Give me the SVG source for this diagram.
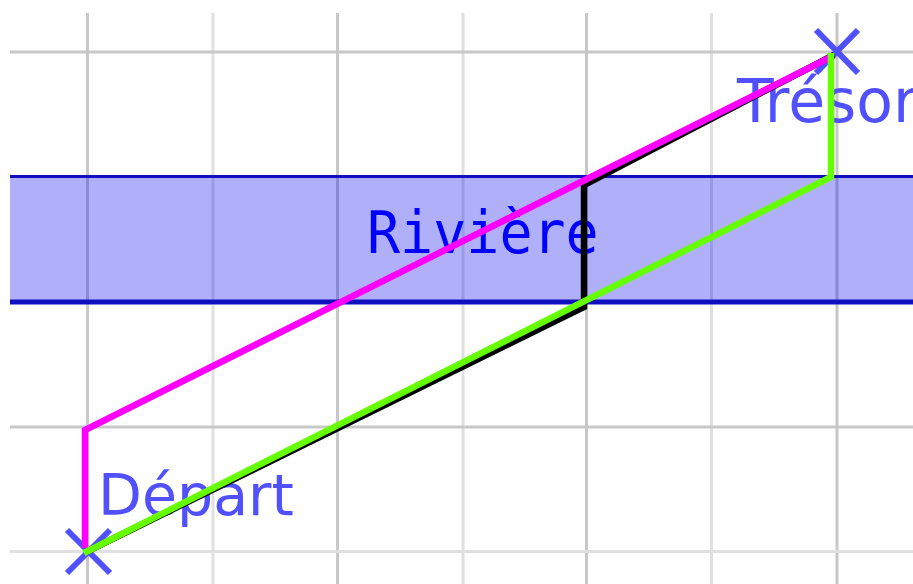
<svg xmlns="http://www.w3.org/2000/svg" width="913" height="584" viewBox="0 0 913 584">
<style>
.gd{stroke:#c8c8c8;stroke-width:3}
.gl{stroke:#e0e0e0;stroke-width:3}
.mark{stroke:#5050ff;stroke-width:6;fill:none}
.lbl{font-family:"DejaVu Sans",sans-serif;fill:#5050ff}
.riv{font-family:"DejaVu Sans Mono",monospace;fill:#0000ff;font-size:55px}
.path{fill:none;stroke-width:6.5;stroke-linejoin:miter}
</style>
<rect width="913" height="584" fill="#ffffff"/>
<g id="grid">
<line class="gd" x1="87.5" y1="13" x2="87.5" y2="584"/>
<line class="gl" x1="213" y1="13" x2="213" y2="584"/>
<line class="gd" x1="337.5" y1="13" x2="337.5" y2="584"/>
<line class="gl" x1="463" y1="13" x2="463" y2="584"/>
<line class="gd" x1="586.5" y1="13" x2="586.5" y2="584"/>
<line class="gl" x1="711.5" y1="13" x2="711.5" y2="584"/>
<line class="gd" x1="837" y1="13" x2="837" y2="584"/>
<line class="gd" x1="10" y1="52" x2="913" y2="52"/>
<line class="gd" x1="10" y1="427" x2="913" y2="427"/>
<line class="gl" x1="10" y1="551.5" x2="913" y2="551.5"/>
</g>
<g id="river">
<rect x="10" y="176" width="903" height="126" fill="#0000f0" fill-opacity="0.31"/>
<line x1="10" y1="176.5" x2="913" y2="176.5" stroke="#1010c0" stroke-width="3"/>
<line x1="10" y1="302" x2="913" y2="302" stroke="#1010c0" stroke-width="5"/>
<g transform="translate(367,253) scale(1,1.07)"><text class="riv" x="0" y="0">Rivière</text></g>
</g>
<g id="depart">
<path class="mark" d="M67,530 L110,573 M110,530 L67,573"/>
<text class="lbl" x="98" y="515" font-size="57">Départ</text>
</g>
<g id="tresor">
<path class="mark" d="M816,30 L858,73 M858,30 L816,73"/>
<text class="lbl" x="737" y="122" font-size="60">Trésor</text>
</g>
<g id="connectors">
<path class="path" stroke="#000000" d="M86,552 L584,307 L584,185 L834,55"/>
<path class="path" stroke="#ff00ff" d="M85,548 L85,430 L833,56"/>
<path class="path" stroke="#66ff00" d="M84,553 L831,177 L831,53"/>
</g>
</svg>
